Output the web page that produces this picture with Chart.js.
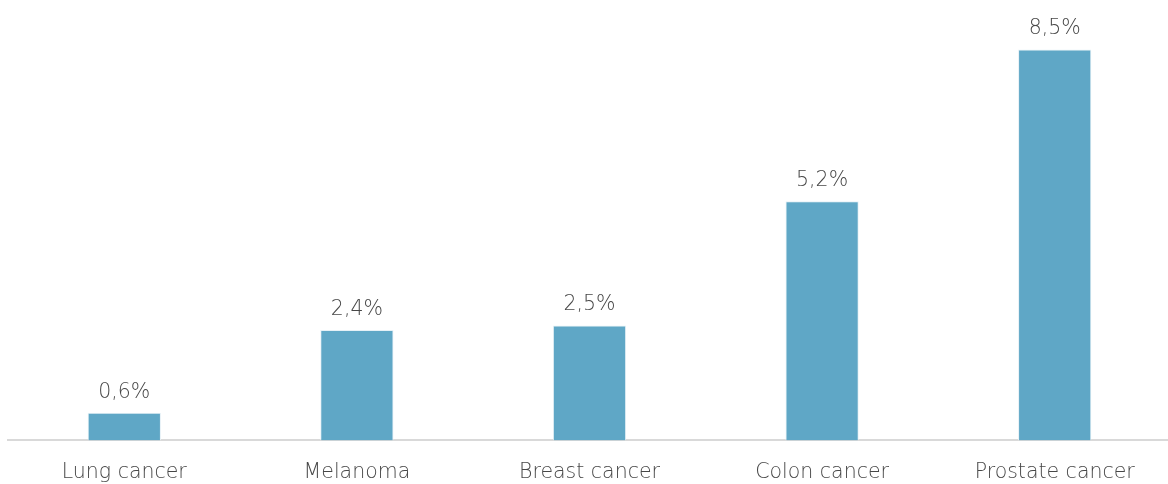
<!DOCTYPE html>
<html>
<head>
<meta charset="utf-8">
<script src="https://cdn.jsdelivr.net/npm/chart.js@4/dist/chart.umd.min.js"></script>
<style>
html,body{margin:0;padding:0;background:#fff;overflow:hidden;}
#wrap{width:1168px;height:484px;position:relative;overflow:hidden;}
</style>
</head>
<body>
<div id="wrap"><canvas id="c" width="1171" height="484"></canvas></div>
<script>
const categories = ["Lung cancer", "Melanoma", "Breast cancer", "Colon cancer", "Prostate cancer"];
const values = [0.6, 2.4, 2.5, 5.2, 8.5];
const valueLabels = ["0,6%", "2,4%", "2,5%", "5,2%", "8,5%"];

const FONT = "'DejaVu Sans', sans-serif";
const TEXT = "#474747";

const valueLabelPlugin = {
  id: 'valueLabels',
  afterDatasetsDraw(chart) {
    const ctx = chart.ctx;
    const meta = chart.getDatasetMeta(0);
    ctx.save();
    ctx.font = "200 20.5px " + FONT;
    ctx.fillStyle = TEXT;
    ctx.textAlign = 'center';
    ctx.textBaseline = 'alphabetic';
    meta.data.forEach((bar, i) => {
      ctx.fillText(valueLabels[i], bar.x, bar.y - 15);
    });
    ctx.restore();
  }
};

new Chart(document.getElementById('c'), {
  type: 'bar',
  data: {
    labels: categories,
    datasets: [{
      data: values,
      backgroundColor: '#5fa7c6',
      borderColor: '#e6f1f6',
      borderWidth: 1,
      barPercentage: 0.315,
      categoryPercentage: 1
    }]
  },
  options: {
    responsive: false,
    animation: false,
    layout: { padding: { left: 8, right: 0, top: 8, bottom: -21 } },
    plugins: { legend: { display: false }, tooltip: { enabled: false } },
    scales: {
      x: {
        grid: { display: false, drawTicks: false },
        border: { display: true, color: '#d9d9d9', width: 2 },
        ticks: { color: TEXT, font: { family: FONT, size: 20.5, weight: 200 }, padding: 20 }
      },
      y: {
        display: false,
        min: 0,
        max: 9.4
      }
    }
  },
  plugins: [valueLabelPlugin]
});
</script>
</body>
</html>
